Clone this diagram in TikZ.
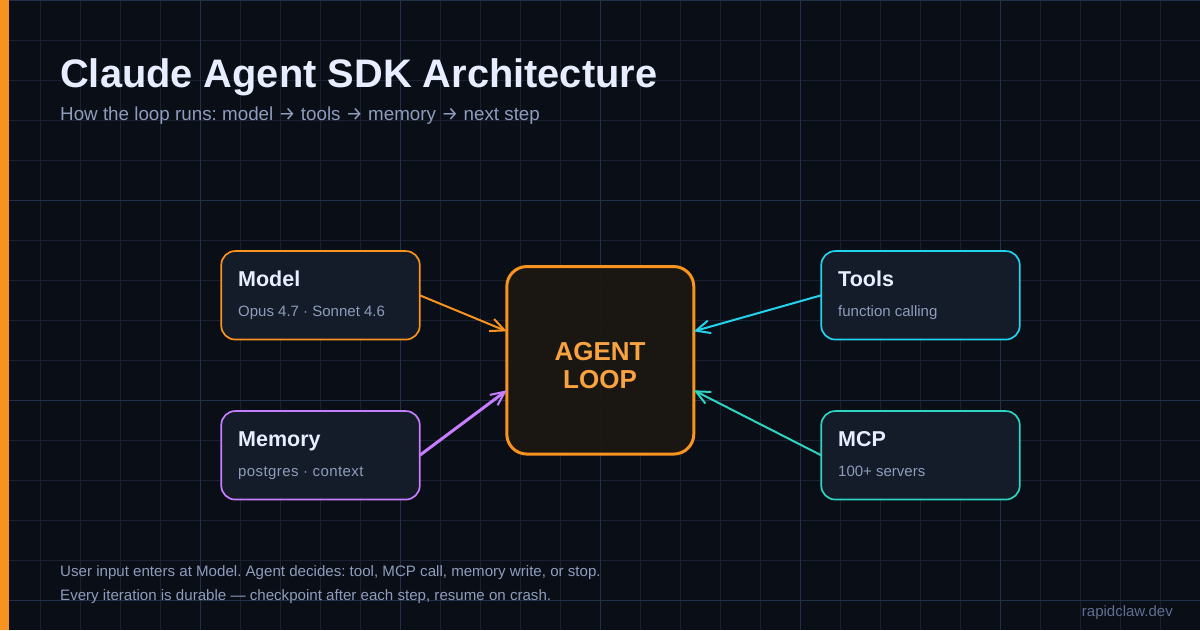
\documentclass[tikz,border=0pt]{standalone}
\usepackage{fontspec}
\setmainfont{Liberation Sans}
\newfontfamily\arrowfont{Fira Sans}
\usetikzlibrary{arrows.meta}
\definecolor{bgdark}{HTML}{0A0E17}
\definecolor{gridminor}{HTML}{1A2133}
\definecolor{gridmajor}{HTML}{233049}
\definecolor{accent}{HTML}{F7931E}
\definecolor{violet}{HTML}{C77DFF}
\definecolor{aqua}{HTML}{22D3EE}
\definecolor{teal}{HTML}{2DD4BF}
\definecolor{boxfill}{HTML}{151C2B}
\definecolor{loopfill}{HTML}{1C1812}
\definecolor{headtext}{HTML}{E8EEFF}
\definecolor{subtext}{HTML}{8E9DBD}
\definecolor{marktext}{HTML}{5F6F90}
\newcommand{\toarrow}{{\arrowfont\fontsize{19}{19}\selectfont →}}
\tikzset{
    part/.style={draw, line width=1.7pt, rounded corners=14pt, fill=boxfill, fill opacity=.94, minimum width=198.5pt, minimum height=88.5pt, outer sep=0pt, inner sep=0pt},
    partname/.style={anchor=base west, inner sep=0pt, text=headtext, font=\bfseries\fontsize{21.5}{21}\selectfont},
    partnote/.style={anchor=base west, inner sep=0pt, text=subtext, font=\fontsize{15}{15}\selectfont},
    note/.style={anchor=base west, inner sep=0pt, text=subtext, font=\fontsize{15.1}{15}\selectfont},
}
\begin{document}
\frenchspacing
\begin{tikzpicture}[x=1pt, y=-1pt, >={Straight Barb[length=14pt, width=13pt, line width=2pt]}]
    \useasboundingbox (0,0) rectangle (1200,630);
    \fill [bgdark] (0,0) rectangle (1200,630);

    % Grid
    \foreach \x in {40,80,...,1160} \draw [gridminor, line width=1pt] (\x+0.5,0) -- (\x+0.5,630);
    \foreach \y in {40,80,...,600} \draw [gridminor, line width=1pt] (0,\y+0.5) -- (1200,\y+0.5);
    \foreach \x in {200,400,...,1000} \draw [gridmajor, line width=1pt] (\x+0.5,0) -- (\x+0.5,630);
    \foreach \y in {0,200,400,600} \draw [gridmajor, line width=1pt] (0,\y+0.5) -- (1200,\y+0.5);
    \fill [accent] (0,0) rectangle (9,630);

    % Heading
    \node [anchor=base west, inner sep=0pt, text=headtext, font=\bfseries\fontsize{39.8}{40}\selectfont] (heading) at (60,87) {Claude Agent SDK Architecture};
    \node [anchor=base west, inner sep=0pt, text=subtext, font=\fontsize{18.8}{19}\selectfont] (subheading) at (60,120) {How the loop runs: model \toarrow{} tools \toarrow{} memory \toarrow{} next step};

    % Nodes
    \node [part, draw=accent, fill=loopfill, line width=3pt, rounded corners=20pt, minimum width=187pt, minimum height=187.5pt] (agent) at (600.3,360.3) {};
    \node [part, draw=accent] (model)  at (320.5,295.3) {};
    \node [part, draw=violet] (memory) at (320.5,455.3) {};
    \node [part, draw=aqua]   (tools)  at (920.5,295.3) {};
    \node [part, draw=teal]   (mcp)    at (920.5,455.3) {};

    % Labels
    \node [align=center, inner sep=0pt, text=accent!85!white, font=\bfseries\fontsize{26}{28}\selectfont] (agentname) at (600,365.5) {AGENT\\LOOP};
    \node [partname] (modelname)  at (238,286) {Model};
    \node [partnote] (modelnote)  at (238,316) {Opus 4.7 · Sonnet 4.6};
    \node [partname] (memoryname) at (238,446) {Memory};
    \node [partnote] (memorynote) at (238,476) {\addfontfeature{LetterSpace=2.7}postgres · context};
    \node [partname] (toolsname)  at (838,286) {Tools};
    \node [partnote] (toolsnote)  at (838,316) {function calling};
    \node [partname] (mcpname)    at (838,446) {MCP};
    \node [partnote] (mcpnote)    at (838,476) {100+ servers};

    % Paths
    \path [->, draw=accent, line width=2pt] (model.east) -- ([yshift=29pt]agent.west);
    \path [->, draw=violet, line width=3pt] (memory.east) -- ([yshift=-30pt]agent.west);
    \path [->, draw=aqua, line width=2pt] (tools.west) -- ([yshift=29pt]agent.east);
    \path [->, draw=teal, line width=2pt] (mcp.west) -- ([yshift=-30pt]agent.east);

    % Footer
    \node [note] (footone) at (60,576) {User input enters at Model. Agent decides: tool, MCP call, memory write, or stop.};
    \node [note] (foottwo) at (60,600) {Every iteration is durable — checkpoint after each step, resume on crash.};
    \node [anchor=base east, inner sep=0pt, text=marktext, font=\fontsize{15}{15}\selectfont] (brand) at (1173,616) {rapidclaw.dev};
\end{tikzpicture}
\end{document}
